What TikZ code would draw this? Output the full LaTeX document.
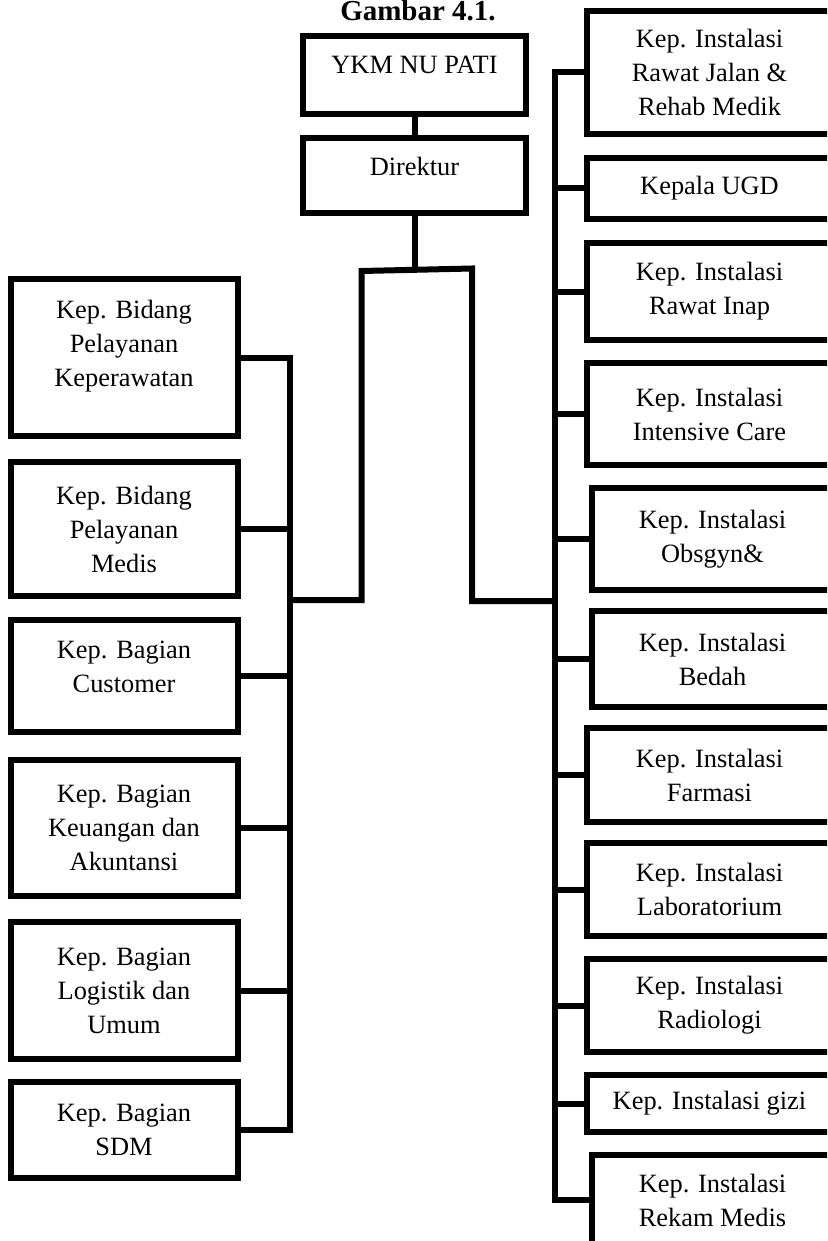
\documentclass[tikz,border=0pt]{standalone}
\usepackage{fontspec}
\setmainfont{Liberation Serif}
\usepackage{tikz}
\usetikzlibrary{positioning}

\begin{document}
\begin{tikzpicture}[x=0.5pt,y=-0.5pt,line width=3pt]
		\tikzstyle{kotak}=[rectangle, draw, line width=3pt, outer sep=0pt, inner sep=0pt, align=center, font=\fontsize{13.2}{17}\selectfont]
		\tikzstyle{kiri}=[kotak, minimum width=113.5pt]
		\tikzstyle{kanan}=[kotak, minimum width=122.5pt]
		
		\useasboundingbox (0,0) rectangle (827,1241);
		\clip (0,0) rectangle (827,1241);
		
		\node[font=\fontsize{14.5}{17}\selectfont\bfseries, anchor=base] (judul) at (418,21) {Gambar 4.1.};
		
		\node[kotak, minimum width=111.5pt, minimum height=39pt] (y) at (414.5,75) {YKM NU PATI\\[-7pt]\mbox{}};
		\node[kotak, minimum width=111.5pt, minimum height=37.5pt] (d) at (414.5,175.5) {Direktur\\[-7.5pt]\mbox{}};
		
		% bidang dan bagian
		\node[kiri, minimum height=78.5pt] (l1) at (124,357.5) {Kep. Bidang\\Pelayanan\\Keperawatan\\[-3pt]\mbox{}};
		\node[kiri, minimum height=67pt]   (l2) at (124,529)   {Kep. Bidang\\Pelayanan\\Medis};
		\node[kiri, minimum height=56pt]   (l3) at (124,676)   {Kep. Bagian\\Customer\\[-8pt]\mbox{}};
		\node[kiri, minimum height=68pt]   (l4) at (124,828)   {Kep. Bagian\\Keuangan dan\\Akuntansi};
		\node[kiri, minimum height=68.5pt] (l5) at (124,990.5) {Kep. Bagian\\Logistik dan\\Umum};
		\node[kiri, minimum height=48pt]   (l6) at (124,1130)  {Kep. Bagian\\SDM};
		
		% instalasi
		\node[kanan, minimum height=61.5pt] (r1)  at (709.5,72.5)   {Kep. Instalasi\\Rawat Jalan \&\\Rehab Medik};
		\node[kanan, minimum height=30.5pt] (r2)  at (709.5,188.5)  {Kepala UGD};
		\node[kanan, minimum height=48.5pt] (r3)  at (709.5,291.5)  {Kep. Instalasi\\Rawat Inap};
		\node[kanan, minimum height=51pt]   (r4)  at (709.5,414)    {Kep. Instalasi\\Intensive Care};
		\node[kanan, minimum width=120.5pt, minimum height=51pt] (r5) at (712.5,539) {Kep. Instalasi\\Obsgyn\&};
		\node[kanan, minimum width=120.5pt, minimum height=48pt] (r6) at (712.5,659) {Kep. Instalasi\\Bedah};
		\node[kanan, minimum height=47pt]   (r7)  at (709.5,775)    {Kep. Instalasi\\Farmasi};
		\node[kanan, minimum height=46.5pt] (r8)  at (709.5,889.5)  {Kep. Instalasi\\Laboratorium};
		\node[kanan, minimum height=46.5pt] (r9)  at (709.5,1005.5) {Kep. Instalasi\\Radiologi};
		\node[kanan, minimum height=28.5pt] (r10) at (709.5,1103.5) {Kep. Instalasi gizi};
		\node[kanan, minimum width=120.5pt, minimum height=45pt] (r11) at (712.5,1200) {Kep. Instalasi\\Rekam Medis};
		
		\coordinate (busl) at (290,0);
		\coordinate (busr) at (555,0);
		\coordinate (pk) at (361.5,600);
		\coordinate (ka) at (361.5,271);
		\coordinate (kn) at (472,268.5);
		\coordinate (pn) at (472,601);
		
		\draw (y.south) -- (d.north);
		\draw (d.south) -- (d.south |- kn);
		\draw (busl |- pk) -- (pk) -- (ka) -- (kn) -- (pn) -- (busr |- pn);
		
		\draw (l1.east) -- (l1.east -| busl) -- (l6.east -| busl) -- (l6.east);
		\foreach \n in {l2,l3,l4,l5}
			\draw (\n.east) -- (\n.east -| busl);
		
		\draw (r1.west) -- (r1.west -| busr) -- (r11.west -| busr) -- (r11.west);
		\foreach \n in {r2,r3,r4,r5,r6,r7,r8,r9,r10}
			\draw (\n.west) -- (\n.west -| busr);
\end{tikzpicture}
\end{document}
